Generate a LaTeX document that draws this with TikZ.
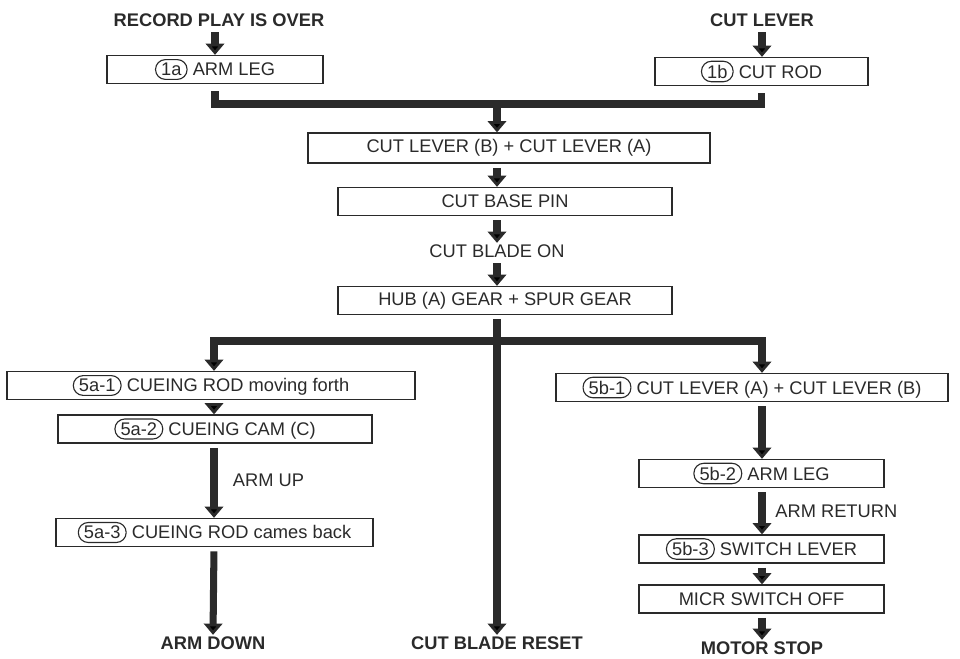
\documentclass[tikz,border=0pt]{standalone}
\usepackage{fontspec}
\setmainfont{Liberation Sans}
\usetikzlibrary{arrows.meta,positioning}

\definecolor{ink}{HTML}{2A2A2A}

% rounded step number in front of a box text
\newcommand{\stepmark}[1]{\tikz[baseline]\node[anchor=base,draw=ink,line width=0.8pt,rounded corners=7pt,minimum width=0pt,minimum height=0pt,inner xsep=4pt,inner ysep=2.5pt]{#1};}

\tikzset{
  box/.style={draw=ink, line width=0.9pt, minimum height=0.7cm, inner sep=1pt, text=ink},
  flow/.style={draw=ink, line width=5pt, -{Triangle[width=13pt,length=8pt]}},
  bar/.style={draw=ink, line width=5pt},
  gap/.style={shorten <=3pt},
  lbl/.style={inner sep=1pt, text=ink},
  head/.style={lbl, font=\fontsize{13pt}{15pt}\selectfont\bfseries},
}

\begin{document}
\begin{tikzpicture}[x=0.025cm, y=-0.025cm, font=\fontsize{13pt}{15pt}\selectfont]
    \useasboundingbox (0,0) rectangle (960,658);
    \coordinate (colL) at (214,0);
    \coordinate (colR) at (762,0);
    \coordinate (merge) at (497,104);
    \coordinate (split) at (497,341);

    % start
    \node[head] (over) at (219,20) {RECORD PLAY IS OVER};
    \node[head] (cutlever) at (762,20) {CUT LEVER};
    \node[box, minimum width=5.4cm] (arm1a) at (215,69.5) {\stepmark{1a} ARM LEG};
    \node[box, minimum width=5.325cm] (rod1b) at (761.5,71.5) {\stepmark{1b} CUT ROD};
    \node[box, minimum width=10.05cm, minimum height=0.75cm] (levers) at (509,148) {CUT LEVER (B) + CUT LEVER (A)};
    \node[box, minimum width=8.35cm] (pin) at (505,201.5) {CUT BASE PIN};
    \node[lbl] (bladeon) at (497,251) {CUT BLADE ON};
    \node[box, minimum width=8.35cm] (hub) at (505,300.5) {HUB (A) GEAR + SPUR GEAR};

    % left branch
    \node[box, minimum width=10.2cm] (rod1) at (211,385.5) {\stepmark{5a-1} CUEING ROD moving forth};
    \node[box, minimum width=7.85cm] (cam) at (215,429) {\stepmark{5a-2} CUEING CAM (C)};
    \node[box, minimum width=7.925cm] (rod3) at (214.5,532.5) {\stepmark{5a-3} CUEING ROD cames back};
    \node[head] (armdown) at (213,643) {ARM DOWN};

    % middle
    \node[head] (bladereset) at (497,643) {CUT BLADE RESET};

    % right branch
    \node[box, minimum width=9.8cm] (lev5b) at (752,387.5) {\stepmark{5b-1} CUT LEVER (A) + CUT LEVER (B)};
    \node[box, minimum width=6.125cm] (leg5b) at (761.5,473.5) {\stepmark{5b-2} ARM LEG};
    \node[box, minimum width=6.125cm] (sw) at (761.5,549) {\stepmark{5b-3} SWITCH LEVER};
    \node[box, minimum width=6.125cm] (micr) at (761.5,599) {MICR SWITCH OFF};
    \node[head] (motorstop) at (762,648) {MOTOR STOP};

    % connectors
    \draw[flow,gap] (over.south -| arm1a.north) -- (arm1a.north);
    \draw[flow,gap] (cutlever.south -| colR) -- (rod1b.north -| colR);
    \draw[bar,shorten <=5pt,shorten >=5pt] (arm1a.south) |- (merge) -| (rod1b.south);
    \draw[flow] (merge) -- (merge |- levers.north);
    \draw[flow,gap] (levers.south -| merge) -- (pin.north -| merge);
    \draw[flow,gap] (pin.south -| merge) -- (bladeon.north);
    \draw[flow,gap] (bladeon.south) -- (hub.north -| bladeon);
    \draw[flow,gap] (hub.south -| split) -- (bladereset.north);
    \draw[flow] (split) -| (rod1.north -| colL);
    \draw[flow] (split) -| (lev5b.north -| colR);

    \draw[flow,gap] (rod1.south -| colL) -- (cam.north -| colL);
    \draw[flow,gap=4pt] (cam.south -| colL) -- node[lbl, right=10pt] (armup) {ARM UP} (rod3.north -| colL);
    \draw[flow,gap] (rod3.south -| colL) -- (armdown.north);

    \draw[flow,gap] (lev5b.south -| colR) -- (leg5b.north -| colR);
    \draw[flow,gap] (leg5b.south -| colR) -- node[lbl, right=6pt] (armret) {ARM RETURN} (sw.north -| colR);
    \draw[flow,gap] (sw.south -| colR) -- (micr.north -| colR);
    \draw[flow,gap] (micr.south -| colR) -- (motorstop.north);
\end{tikzpicture}
\end{document}
